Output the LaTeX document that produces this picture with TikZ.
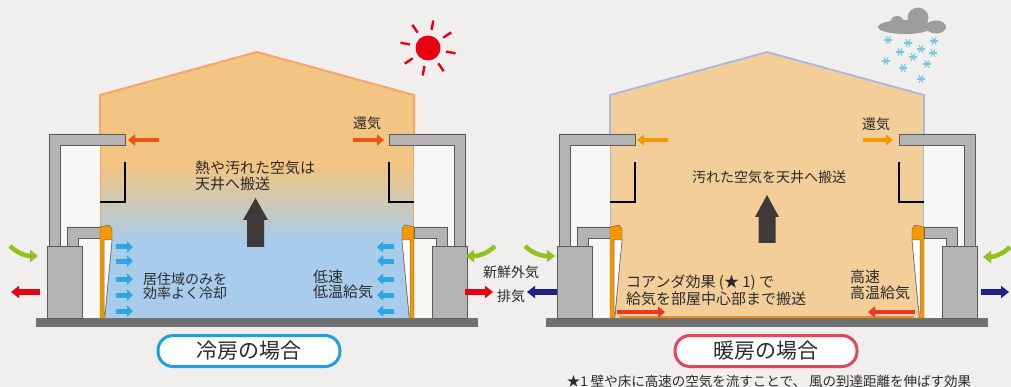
\documentclass[tikz,border=0pt]{standalone}
\usepackage{fontspec}
\newfontfamily\jp{Noto Sans CJK JP}
\usetikzlibrary{arrows.meta}
\newcommand\jpsize[2]{\fontsize{#1}{#2}\selectfont}
\definecolor{bg}{HTML}{F0EFED}
\definecolor{nook}{HTML}{F7F7F6}
\definecolor{warm}{HTML}{F2C582}
\definecolor{cool}{HTML}{A8CCEB}
\definecolor{mist}{HTML}{D9D1C2}
\definecolor{warmroom}{HTML}{F3CE99}
\definecolor{roofline}{HTML}{F4A66E}
\definecolor{roofblue}{HTML}{A9B8E0}
\definecolor{floorline}{HTML}{EF8A1C}
\definecolor{ductgray}{HTML}{B4B4B4}
\definecolor{ductline}{HTML}{5A5A5A}
\definecolor{slabgray}{HTML}{717171}
\definecolor{diffuser}{HTML}{F39800}
\definecolor{returnred}{HTML}{E95513}
\definecolor{returnorange}{HTML}{F39800}
\definecolor{supplyblue}{HTML}{2EA7E0}
\definecolor{supplyred}{HTML}{E83828}
\definecolor{freshgreen}{HTML}{8FC31F}
\definecolor{exhaustred}{HTML}{E60012}
\definecolor{exhaustnavy}{HTML}{1D2088}
\definecolor{upgray}{HTML}{3E3A39}
\definecolor{ink}{HTML}{2B2B2B}
\definecolor{sunred}{HTML}{E60012}
\definecolor{cloudgray}{HTML}{9D9D9D}
\definecolor{snow}{HTML}{79C6E8}
\definecolor{pillblue}{HTML}{1D9FE2}
\definecolor{pillred}{HTML}{E5455A}

\tikzset{
  lbl/.style={inner sep=0pt, text=ink, align=left, font={\jp\jpsize{15pt}{16pt}}},
  duct/.style={fill=ductgray, draw=ductline, line width=0.6pt},
  vent/.style={fill=diffuser, draw=ductline, line width=0.4pt},
  wedge/.style={fill=white, draw=ductline, line width=0.5pt},
  bracket/.style={draw=black, line width=1.3pt},
  slab/.style={fill=slabgray},
  flowarrow/.style={line width=4.5pt, -{Triangle[length=7pt,width=11pt]}},
  smallarrow/.style={line width=5pt, -{Triangle[length=6pt,width=11pt]}},
  outarrow/.style={line width=5.5pt, -{Triangle[length=8pt,width=12pt]}},
  curvearrow/.style={line width=4.5pt, -{Triangle[length=8pt,width=12pt]}},
  pill/.style={draw, line width=3pt, fill=white, rounded corners=15pt,
    minimum width=182pt, minimum height=31pt, inner sep=0pt, text=ink,
    font={\jp\jpsize{21pt}{22pt}}},
  flake/.pic={
    \foreach \a in {0,60,120}{\draw[snow, line width=1.1pt] (\a:4.2) -- (\a+180:4.2);}
  }
}

% one side of the ventilation set: return duct, supply duct, unit, diffuser
\newcommand\ventside{%
  \fill[nook] (60,145) rectangle (100,318);
  \draw[duct] (49,246) -- (49,134) -- (125,134) -- (125,145) -- (60,145) -- (60,246) -- cycle;
  \draw[duct] (67,246) -- (67,227) -- (100,227) -- (100,238) -- (78,238) -- (78,246) -- cycle;
  \draw[duct] (47,246) rectangle (82,318);
  \draw[vent] (100,318) -- (100,227) -- (109,225) -- (112,229) -- (112,240) -- (105,316) -- (105,318) -- cycle;
  \draw[wedge] (104,240) -- (112,240) -- (105,314) -- (104,314) -- cycle;
  \draw[bracket] (125,162) -- (125,202) -- (100,202);
}
% both sides of one house, plus its floor slab
\newcommand\ventunit[1]{%
  \begin{scope}[xshift=#1pt]
    \fill[slab] (36,318) rectangle (478,327);
    \ventside
    \begin{scope}[xshift=514pt, xscale=-1]
      \ventside
    \end{scope}
  \end{scope}
}

\begin{document}
\begin{tikzpicture}[x=1pt, y=-1pt]
\useasboundingbox (0,0) rectangle (1011,387);
\fill[bg] (0,0) rectangle (1011,387);

% ---- cooling room: warm ceiling air, cool occupied zone
\begin{scope}
  \clip (100,318) -- (100,95) -- (257,52) -- (414,95) -- (414,318) -- cycle;
  \fill[warm] (90,40) rectangle (424,166);
  \shade[top color=warm, middle color=mist, bottom color=cool] (90,165) rectangle (424,241);
  \fill[cool] (90,240) rectangle (424,320);
\end{scope}
\draw[roofline, line width=2pt, line join=round] (100,226) -- (100,95) -- (257,52) -- (414,95) -- (414,226);

% ---- heating room
\fill[warmroom] (610,318) -- (610,95) -- (767,52) -- (924,95) -- (924,318) -- cycle;
\draw[roofblue, line width=1.8pt, line join=round] (610,226) -- (610,95) -- (767,52) -- (924,95) -- (924,226);
\draw[floorline, line width=2pt] (620,316.5) -- (914,316.5);

% ---- ventilation hardware
\ventunit{0}
\ventunit{510}

% ---- cooling: air movement
\coordinate (cRetL0) at (159,140); \coordinate (cRetL1) at (128,140);
\coordinate (cRetR0) at (353,140); \coordinate (cRetR1) at (384,140);
\draw[flowarrow, returnred] (cRetL0) -- (cRetL1);
\draw[flowarrow, returnred] (cRetR0) -- (cRetR1);
\foreach \y in {247,261,279,295,311}{
  \draw[smallarrow, supplyblue] (116,\y) -- (133,\y);
  \draw[smallarrow, supplyblue] (394,\y) -- (377,\y);
}
\draw[curvearrow, freshgreen] (10,246) .. controls (17,253) and (26,256) .. (38,256);
\draw[curvearrow, freshgreen] (495,246) .. controls (488,253) and (479,256) .. (466,256);
\draw[outarrow, exhaustred] (40,292) -- (11,292);
\draw[outarrow, exhaustred] (465,292) -- (493,292);
\fill[upgray] (247,247) -- (247,220) -- (243,220) -- (255.5,198) -- (268,220) -- (264,220) -- (264,247) -- cycle;

% ---- heating: air movement
\draw[flowarrow, returnorange] (668,140) -- (637,140);
\draw[flowarrow, returnorange] (863,140) -- (893,140);
\draw[flowarrow, supplyred] (617,312) -- (665,312);
\draw[flowarrow, supplyred] (915,312) -- (868,312);
\draw[curvearrow, freshgreen] (525,246) .. controls (532,253) and (541,256) .. (555,256);
\draw[curvearrow, freshgreen] (1010,247) .. controls (1003,254) and (994,257) .. (983,257);
\draw[outarrow, exhaustnavy] (557,292) -- (527,292);
\draw[outarrow, exhaustnavy] (981,292) -- (1009,292);
\fill[upgray] (758.5,243) -- (758.5,217) -- (755,217) -- (767,195) -- (779,217) -- (775.5,217) -- (775.5,243) -- cycle;

% ---- labels
\node[lbl, anchor=west] (heatup) at (195,176) {熱や汚れた空気は\\天井へ搬送};
\node[lbl, anchor=west, font={\jp\jpsize{14pt}{14pt}}] (zone) at (143,286) {居住域のみを\\効率よく冷却};
\node[lbl, anchor=west, font={\jp\jpsize{15pt}{15pt}}] (lowspeed) at (313,284.5) {低速\\低温給気};
\node[lbl, font={\jp\jpsize{14pt}{15pt}}] (retL) at (367,123) {還気};
\node[lbl, font={\jp\jpsize{14pt}{15pt}}] (retR) at (876,124) {還気};
\node[lbl, font={\jp\jpsize{14pt}{15pt}}] (fresh) at (511,272) {新鮮外気};
\node[lbl, font={\jp\jpsize{14pt}{15pt}}] (exh) at (511,296) {排気};
\node[lbl, font={\jp\jpsize{14pt}{15pt}}] (dirtyup) at (769,177) {汚れた空気を天井へ搬送};
\node[lbl, anchor=west, font={\jp\jpsize{15pt}{17pt}}] (coanda) at (626,290.5) {コアンダ効果 (★ 1) で\\給気を部屋中心部まで搬送};
\node[lbl, anchor=west, font={\jp\jpsize{15pt}{16pt}}] (highspeed) at (850,285) {高速\\高温給気};

% ---- weather
\begin{scope}[shift={(428,48)}]
  \fill[sunred] (0,0) circle (12.5);
  \foreach \a in {11,56,101,146,191,236,281,326}
    \draw[sunred, line width=2.4pt] (\a:18.5) -- (\a:28);
\end{scope}
\begin{scope}[cloudgray]
  \fill (905,27) ellipse (27 and 7);
  \fill (918,18) circle (10.5);
  \fill (897,23) circle (7);
  \fill (936,27) ellipse (10 and 6.5);
\end{scope}
\foreach \p in {(888,40),(908,43),(934,41),(900,52),(921,49),(933,53),(913,57),(886,61),(927,64),(903,68),(921,79)}
  \pic at \p {flake};

% ---- captions
\node[pill, draw=pillblue] (coolcap) at (249,351) {冷房の場合};
\node[pill, draw=pillred] (heatcap) at (766,351) {暖房の場合};
\node[lbl, font={\jp\jpsize{13.5pt}{14pt}}] (note) at (769,381) {★1 壁や床に高速の空気を流すことで、 風の到達距離を伸ばす効果};
\end{tikzpicture}
\end{document}
